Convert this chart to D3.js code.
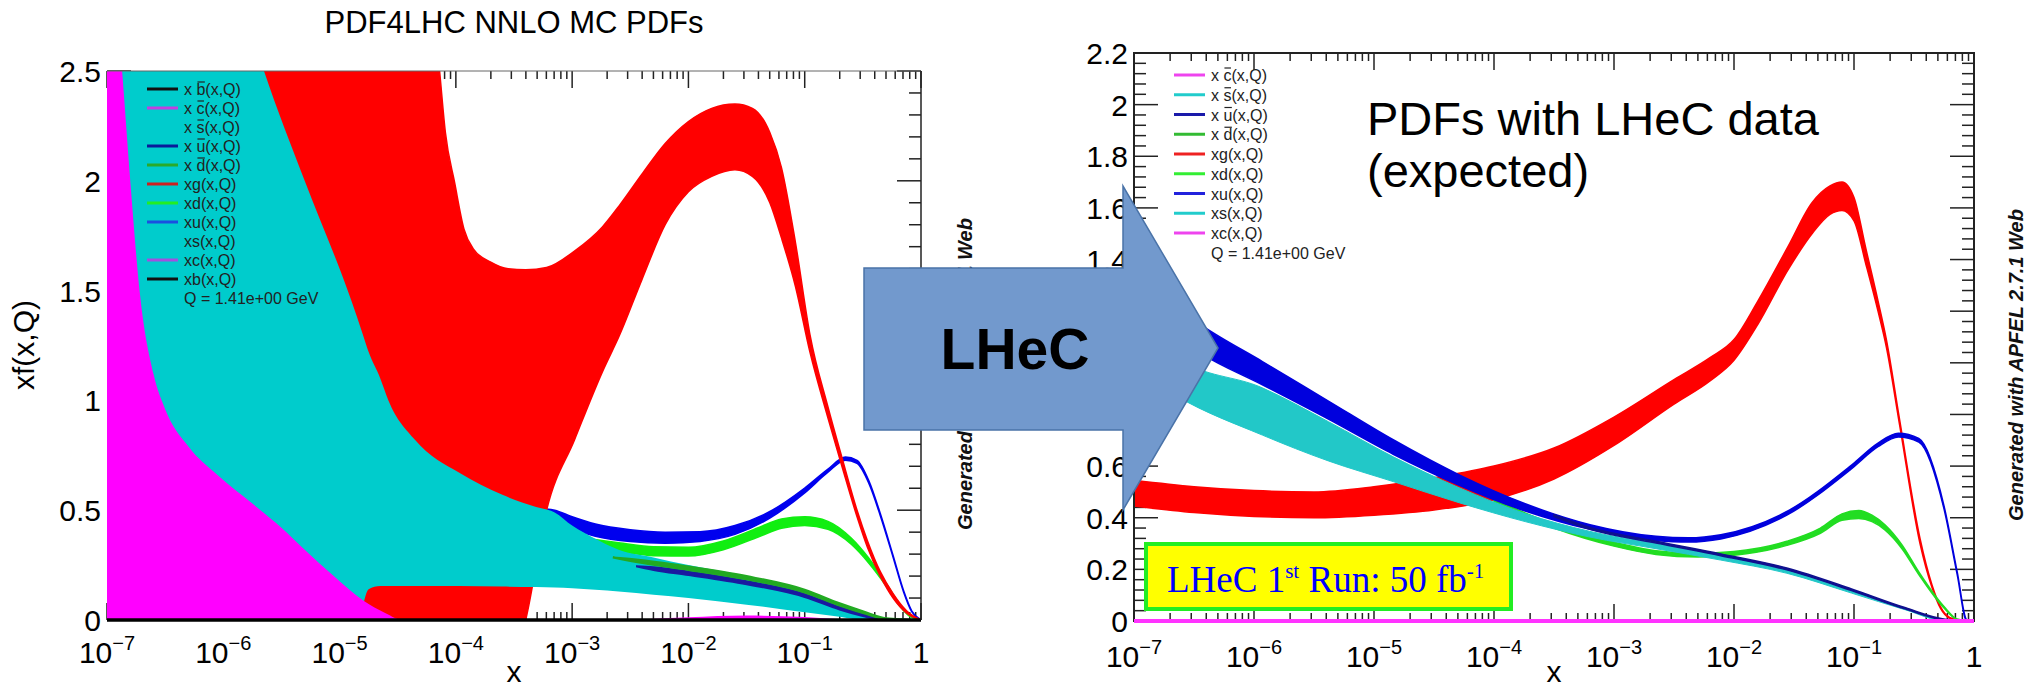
<!DOCTYPE html>
<html>
<head>
<meta charset="utf-8">
<script src="https://cdn.jsdelivr.net/npm/d3@7"></script>
<style>
  body { margin: 0; background: #fff; }
  svg { display: block; font-family: "Liberation Sans", Arial, sans-serif; }
</style>
</head>
<body>
<div id="chart"></div>
<script>
var width = 2028;
var height = 690;

// every band is [log10(x), lower, upper]

// left panel: PDF4LHC NNLO MC, Q = 1.41 GeV
var leftGluon = [
  [-7, -4, 8], [-4.6, -2, 4.5], [-4.3, -1.5, 3.3], [-4.14, -1.3, 2.5], [-4.09, -1.2, 2.22],
  [-4.01, -1.1, 1.99], [-3.93, -0.95, 1.78], [-3.85, -0.8, 1.69], [-3.7, -0.55, 1.63],
  [-3.55, -0.25, 1.6], [-3.4, 0, 1.595], [-3.22, 0.5, 1.605], [-2.98, 0.82, 1.68],
  [-2.74, 1.13, 1.79], [-2.59, 1.3, 1.89], [-2.4, 1.55, 2.03], [-2.2, 1.8, 2.17],
  [-2.0, 1.95, 2.27], [-1.8, 2.02, 2.33], [-1.6, 2.05, 2.35], [-1.45, 2.02, 2.33],
  [-1.3, 1.9, 2.22], [-1.2, 1.74, 2.06], [-1.08, 1.52, 1.72], [-0.955, 1.22, 1.3],
  [-0.8, 0.92, 0.97], [-0.68, 0.7, 0.74], [-0.55, 0.47, 0.5], [-0.46, 0.33, 0.36],
  [-0.35, 0.2, 0.22], [-0.24, 0.1, 0.12], [-0.12, 0.03, 0.04], [0, 0, 0]
];
var leftStrange = [
  [-7, -4, 6.5], [-6.5, -3.3, 4.2], [-6.0, -2.6, 3.1], [-5.65, -2.2, 2.5], [-5.3, -1.8, 2.0],
  [-4.93, -0.5, 1.5], [-4.85, -0.1, 1.38], [-4.8, 0.06, 1.3], [-4.75, 0.14, 1.22],
  [-4.65, 0.155, 1.1], [-4.58, 0.155, 1.0], [-4.35, 0.155, 0.82], [-3.97, 0.155, 0.67],
  [-3.6, 0.152, 0.57], [-3.31, 0.15, 0.515], [-3.15, 0.148, 0.49], [-3.0, 0.145, 0.43],
  [-2.8, 0.138, 0.37], [-2.6, 0.13, 0.32], [-2.3, 0.115, 0.285], [-2.0, 0.1, 0.25],
  [-1.5, 0.07, 0.2], [-1.0, 0.035, 0.135], [-0.7, 0.015, 0.075], [-0.5, 0, 0.035],
  [-0.3, 0, 0.005], [0, 0, 0]
];
var leftCharm = [
  [-7, -3, 3.3], [-6.87, -2.8, 2.5], [-6.8, -2.6, 2.0], [-6.72, -2.4, 1.5], [-6.6, -2.2, 1.12],
  [-6.5, -2.0, 0.96], [-6.3, -1.7, 0.79], [-6.05, -1.4, 0.66], [-5.75, -1.1, 0.53],
  [-5.5, -0.85, 0.42], [-5.3, -0.7, 0.32], [-5.05, -0.5, 0.2], [-4.8, -0.35, 0.09],
  [-4.6, -0.25, 0.03], [-4.46, -0.2, 0], [-3.5, -0.08, -0.01], [-2.5, -0.02, 0],
  [-2.0, 0, 0.012], [-1.5, 0.004, 0.02], [-1.0, 0, 0.014], [-0.6, -0.005, 0.002], [0, 0, 0]
];
var leftUp = [
  [-3.8, 0.6, 0.64], [-3.5, 0.51, 0.55], [-3.3, 0.47, 0.51], [-3.15, 0.448, 0.5],
  [-3.0, 0.415, 0.47], [-2.8, 0.381, 0.437], [-2.5, 0.357, 0.411], [-2.2, 0.35, 0.4],
  [-1.9, 0.358, 0.402], [-1.6, 0.39, 0.43], [-1.3, 0.464, 0.494], [-1.0, 0.579, 0.601],
  [-0.8, 0.673, 0.687], [-0.65, 0.728, 0.742], [-0.55, 0.713, 0.727], [-0.45, 0.624, 0.636],
  [-0.35, 0.475, 0.485], [-0.24, 0.286, 0.294], [-0.15, 0.128, 0.134], [-0.08, 0.038, 0.042],
  [0, 0, 0]
];
var leftDown = [
  [-3.0, 0.34, 0.38], [-2.6, 0.312, 0.352], [-2.3, 0.293, 0.333], [-2.0, 0.291, 0.331],
  [-1.7, 0.32, 0.36], [-1.4, 0.378, 0.42], [-1.2, 0.418, 0.46], [-1.0, 0.43, 0.47],
  [-0.8, 0.413, 0.449], [-0.6, 0.345, 0.373], [-0.45, 0.26, 0.282], [-0.3, 0.155, 0.168],
  [-0.2, 0.075, 0.085], [-0.1, 0.018, 0.022], [0, 0, 0]
];
var leftUbar = [
  [-2.45, 0.245, 0.245], [-2.3, 0.228, 0.24], [-2.0, 0.205, 0.22], [-1.5, 0.163, 0.177],
  [-1.0, 0.105, 0.118], [-0.7, 0.048, 0.058], [-0.5, 0.018, 0.025], [-0.35, 0, 0.005], [0, 0, 0]
];
var leftDbar = [
  [-2.65, 0.285, 0.285], [-2.45, 0.264, 0.276], [-2.0, 0.228, 0.244], [-1.5, 0.185, 0.2],
  [-1.0, 0.125, 0.138], [-0.7, 0.066, 0.076], [-0.5, 0.032, 0.04], [-0.3, 0.004, 0.008], [0, 0, 0]
];
var leftBottom = [[-7, 0, 0], [0, 0, 0]];

// right panel: with LHeC data (expected)
var rightGluon = [
  [-7, 0.445, 0.545], [-6.5, 0.42, 0.52], [-6.0, 0.405, 0.505], [-5.5, 0.4, 0.5],
  [-5.0, 0.41, 0.52], [-4.5, 0.43, 0.555], [-4.0, 0.47, 0.6], [-3.5, 0.55, 0.67],
  [-3.0, 0.68, 0.79], [-2.5, 0.84, 0.935], [-2.2, 0.93, 1.02], [-2.0, 1.01, 1.09],
  [-1.8, 1.15, 1.24], [-1.55, 1.36, 1.45], [-1.35, 1.5, 1.62], [-1.2, 1.575, 1.685],
  [-1.1, 1.59, 1.7], [-1.0, 1.55, 1.64], [-0.9, 1.38, 1.44], [-0.8, 1.2, 1.24],
  [-0.73, 1.06, 1.09], [-0.62, 0.76, 0.78], [-0.45, 0.3, 0.32], [-0.35, 0.13, 0.14],
  [-0.28, 0.05, 0.056], [-0.2, 0.01, 0.013], [-0.1, 0, 0.002], [0, 0, 0]
];
var rightUp = [
  [-7, 1.23, 1.35], [-6.43, 1.033, 1.143], [-5.93, 0.915, 1.005], [-5.38, 0.782, 0.852],
  [-4.84, 0.646, 0.702], [-4.29, 0.526, 0.566], [-3.74, 0.426, 0.454], [-3.2, 0.355, 0.373],
  [-2.65, 0.312, 0.328], [-2.38, 0.306, 0.322], [-2.11, 0.318, 0.334], [-1.56, 0.41, 0.424],
  [-1.02, 0.59, 0.604], [-0.8, 0.675, 0.689], [-0.63, 0.713, 0.727], [-0.46, 0.693, 0.707],
  [-0.25, 0.434, 0.446], [-0.14, 0.18, 0.19], [-0.06, 0, 0.005], [0, 0, 0]
];
var rightStrange = [
  [-7, 0.98, 1.2], [-6.64, 0.87, 1.02], [-5.93, 0.72, 0.903], [-5.38, 0.62, 0.772],
  [-4.84, 0.54, 0.636], [-4.29, 0.458, 0.516], [-3.74, 0.385, 0.416], [-3.2, 0.325, 0.347],
  [-2.65, 0.28, 0.3], [-2.11, 0.236, 0.252], [-1.56, 0.185, 0.198], [-1.02, 0.108, 0.118],
  [-0.57, 0.043, 0.05], [-0.24, 0, 0.004], [0, 0, 0]
];
var rightDown = [
  [-4.0, 0.46, 0.47], [-3.5, 0.36, 0.375], [-3.0, 0.29, 0.305], [-2.65, 0.258, 0.272],
  [-2.3, 0.248, 0.262], [-2.0, 0.255, 0.269], [-1.56, 0.293, 0.309], [-1.28, 0.34, 0.36],
  [-1.1, 0.39, 0.415], [-0.96, 0.397, 0.428], [-0.85, 0.385, 0.41], [-0.74, 0.352, 0.372],
  [-0.6, 0.28, 0.295], [-0.46, 0.18, 0.19], [-0.25, 0.05, 0.056], [-0.14, 0.005, 0.008], [0, 0, 0]
];
var rightUbar = [
  [-3.5, 0.405, 0.412], [-3.2, 0.355, 0.362], [-2.65, 0.302, 0.309], [-2.11, 0.253, 0.26],
  [-1.56, 0.198, 0.205], [-1.02, 0.118, 0.124], [-0.57, 0.046, 0.051], [-0.24, 0.004, 0.007], [0, 0, 0]
];
var rightCharm = [[-7, 0, 0], [0, 0, 0]];

// axes and labels
var leftYTicks = [0, 0.5, 1, 1.5, 2, 2.5];
var rightYTicks = [0, 0.2, 0.4, 0.6, 0.8, 1, 1.2, 1.4, 1.6, 1.8, 2, 2.2];
var xTickExps = [-7, -6, -5, -4, -3, -2, -1];

var leftLegendFlav = ["b", "c", "s", "u", "d", "g", "d", "u", "s", "c", "b"];
var leftLegendBar = [1, 1, 1, 1, 1, 0, 0, 0, 0, 0, 0];
var rightLegendFlav = ["c", "s", "u", "d", "g", "d", "u", "s", "c"];
var rightLegendBar = [1, 1, 1, 1, 0, 0, 0, 0, 0];
var scaleText = "Q = 1.41e+00 GeV";

// legend line colours
var leftLegendColors = ["#111111", "#c040e0", "#00cccc", "#0a1a9a", "#2aaa2a", "#cc2020",
  "#22ee22", "#1a50e0", "#00cccc", "#a050e0", "#111111"];
var rightLegendColors = ["#ee44ee", "#22cccc", "#1a1aaa", "#33bb33", "#ee2222",
  "#33ee33", "#2222dd", "#22cccc", "#ee44ee"];

var svg = d3.select("#chart")
  .append("svg")
  .attr("width", width)
  .attr("height", height);

var xL = d3.scaleLog().domain([1e-7, 1]).range([107, 921]);
var yL = d3.scaleLinear().domain([0, 2.5]).range([620, 71]);
var xR = d3.scaleLog().domain([1e-7, 1]).range([1134, 1974]);
var yR = d3.scaleLinear().domain([0, 2.2]).range([621, 53]);

var defs = svg.append("defs");
defs.append("clipPath").attr("id", "clipL").append("rect")
  .attr("x", 107).attr("y", 71).attr("width", 814).attr("height", 549);
defs.append("clipPath").attr("id", "clipR").append("rect")
  .attr("x", 1134).attr("y", 53).attr("width", 840).attr("height", 568);

function band(xs, ys) {
  return d3.area()
    .x(function(d) { return xs(Math.pow(10, d[0])); })
    .y0(function(d) { return ys(d[1]); })
    .y1(function(d) { return ys(d[2]); })
    .curve(d3.curveMonotoneX);
}

function drawBand(g, data, xs, ys, color, edge) {
  g.append("path")
    .datum(data)
    .attr("d", band(xs, ys))
    .attr("fill", color)
    .attr("stroke", color)
    .attr("stroke-width", edge || 0);
}

function drawTicks(g, xs, ys, yMax, yMajor) {
  var x0 = xs.range()[0], x1 = xs.range()[1];
  var y0 = ys.range()[0], y1 = ys.range()[1];
  for (var d = -7; d <= 0; d++) {
    for (var k = 1; k <= 9; k++) {
      if (d === 0 && k > 1) break;
      var px = xs(k * Math.pow(10, d));
      var len = k === 1 ? 17 : 8;
      g.append("line").attr("x1", px).attr("x2", px).attr("y1", y0).attr("y2", y0 - len);
      g.append("line").attr("x1", px).attr("x2", px).attr("y1", y1).attr("y2", y1 + len);
    }
  }
  var step = yMajor / 5;
  for (var i = 0; i * step <= yMax + 1e-9; i++) {
    var py = ys(i * step);
    var l = i % 5 === 0 ? 24 : 12;
    g.append("line").attr("x1", x0).attr("x2", x0 + l).attr("y1", py).attr("y2", py);
    g.append("line").attr("x1", x1).attr("x2", x1 - l).attr("y1", py).attr("y2", py);
  }
  g.selectAll("line").attr("stroke", "#222").attr("stroke-width", 1.5);
}

function drawXLabels(g, xs, yBase, xTitleY) {
  xTickExps.forEach(function(e) {
    var t = g.append("text")
      .attr("x", xs(Math.pow(10, e)))
      .attr("y", yBase)
      .attr("text-anchor", "middle")
      .attr("font-size", 30)
      .text("10");
    t.append("tspan").attr("dy", -13).attr("font-size", 20).text("\u2212" + (-e));
  });
  g.append("text").attr("x", xs(1)).attr("y", yBase)
    .attr("text-anchor", "middle").attr("font-size", 30).text("1");
  g.append("text").attr("x", (xs.range()[0] + xs.range()[1]) / 2).attr("y", xTitleY)
    .attr("text-anchor", "middle").attr("font-size", 30).text("x");
}

function drawYLabels(g, ys, ticks, xEnd) {
  ticks.forEach(function(v) {
    g.append("text")
      .attr("x", xEnd)
      .attr("y", ys(v) + 11)
      .attr("text-anchor", "end")
      .attr("font-size", 30)
      .text(d3.format("~g")(v));
  });
}

function drawLegend(g, flav, bar, colors, x0, y0, dy, rows) {
  flav.forEach(function(f, i) {
    var y = y0 + dy * i;
    g.append("line")
      .attr("x1", x0).attr("x2", x0 + 31)
      .attr("y1", y).attr("y2", y)
      .attr("stroke", colors[i]).attr("stroke-width", 3);
    var label = bar[i] ? "x " + f + "(x,Q)" : "x" + f + "(x,Q)";
    var t = g.append("text")
      .attr("x", x0 + 37).attr("y", y + 6)
      .attr("font-size", 16).attr("fill", "#222")
      .text(label);
    if (bar[i]) {
      var box = t.node().getExtentOfChar(2);
      g.append("line")
        .attr("x1", box.x + 1).attr("x2", box.x + box.width - 0.5)
        .attr("y1", y + 6 - 13).attr("y2", y + 6 - 13)
        .attr("stroke", "#222").attr("stroke-width", 1.2);
    }
  });
  g.append("text")
    .attr("x", x0 + 37).attr("y", y0 + dy * rows + 6)
    .attr("font-size", 16).attr("fill", "#222")
    .text(scaleText);
}

// ---------- left panel ----------
var left = svg.append("g");
drawTicks(left.append("g"), xL, yL, 2.5, 0.5);

var lp = left.append("g").attr("clip-path", "url(#clipL)");
drawBand(lp, leftUp, xL, yL, "#0000ee", 1.5);
drawBand(lp, leftDown, xL, yL, "#11ee11", 1.5);
drawBand(lp, leftGluon, xL, yL, "#ff0000", 1.5);
drawBand(lp, leftStrange, xL, yL, "#00cccc", 0);
drawBand(lp, leftCharm, xL, yL, "#ff00ff", 0);
drawBand(lp, leftUbar, xL, yL, "#1a1aa0", 2);
drawBand(lp, leftDbar, xL, yL, "#22aa22", 2);

left.append("path")
  .datum(leftBottom)
  .attr("d", d3.line().x(function(d) { return xL(Math.pow(10, d[0])); }).y(function(d) { return yL(d[1]); }))
  .attr("stroke", "#000").attr("stroke-width", 3.5).attr("fill", "none");

left.append("line").attr("x1", 107).attr("x2", 921).attr("y1", 71).attr("y2", 71)
  .attr("stroke", "#666").attr("stroke-width", 1);
left.append("line").attr("x1", 921).attr("x2", 921).attr("y1", 71).attr("y2", 620)
  .attr("stroke", "#222").attr("stroke-width", 1.5);

drawXLabels(left, xL, 663, 682);
drawYLabels(left, yL, leftYTicks, 101);

left.append("text")
  .attr("x", 514).attr("y", 33)
  .attr("text-anchor", "middle").attr("font-size", 31)
  .text("PDF4LHC NNLO MC PDFs");

left.append("text")
  .attr("transform", "translate(34,345) rotate(-90)")
  .attr("text-anchor", "middle").attr("font-size", 30)
  .text("xf(x,Q)");

drawLegend(left, leftLegendFlav, leftLegendBar, leftLegendColors, 147, 89, 19, 11);

left.append("text")
  .attr("transform", "translate(972,374) rotate(-90)")
  .attr("text-anchor", "middle")
  .attr("font-size", 20).attr("font-weight", "bold").attr("font-style", "italic")
  .attr("fill", "#111")
  .text("Generated with APFEL 2.7.1 Web");

// ---------- right panel ----------
var right = svg.append("g");
drawTicks(right.append("g"), xR, yR, 2.2, 0.2);

var rp = right.append("g").attr("clip-path", "url(#clipR)");
drawBand(rp, rightGluon, xR, yR, "#ff0000", 1.5);
drawBand(rp, rightDown, xR, yR, "#22dd22", 1.5);
drawBand(rp, rightStrange, xR, yR, "#22c8c8", 1);
drawBand(rp, rightUp, xR, yR, "#0000dd", 1.5);
drawBand(rp, rightUbar, xR, yR, "#10108f", 1.5);

right.append("rect")
  .attr("x", 1134).attr("y", 53).attr("width", 840).attr("height", 568)
  .attr("fill", "none").attr("stroke", "#222").attr("stroke-width", 2);

right.append("path")
  .datum(rightCharm)
  .attr("d", d3.line().x(function(d) { return xR(Math.pow(10, d[0])); }).y(function(d) { return yR(d[1]); }))
  .attr("stroke", "#ff33ff").attr("stroke-width", 4).attr("fill", "none");

drawXLabels(right, xR, 667, 682);
drawYLabels(right, yR, rightYTicks, 1128);

drawLegend(right, rightLegendFlav, rightLegendBar, rightLegendColors, 1174, 75, 19.75, 9);

right.append("text").attr("x", 1367).attr("y", 135).attr("font-size", 47)
  .text("PDFs with LHeC data");
right.append("text").attr("x", 1367).attr("y", 187).attr("font-size", 47)
  .text("(expected)");

right.append("text")
  .attr("transform", "translate(2023,365) rotate(-90)")
  .attr("text-anchor", "middle")
  .attr("font-size", 20).attr("font-weight", "bold").attr("font-style", "italic")
  .attr("fill", "#111")
  .text("Generated with APFEL 2.7.1 Web");

right.append("rect")
  .attr("x", 1146).attr("y", 544).attr("width", 365).attr("height", 65)
  .attr("fill", "#ffff00").attr("stroke", "#22ee22").attr("stroke-width", 4);
var run = right.append("text")
  .attr("x", 1167).attr("y", 592)
  .attr("font-family", "'Liberation Serif', 'Times New Roman', serif")
  .attr("font-size", 37).attr("fill", "#0000ff");
run.append("tspan").text("LHeC 1");
run.append("tspan").attr("dy", -14).attr("font-size", 21).text("st");
run.append("tspan").attr("dy", 14).text(" Run: 50 fb");
run.append("tspan").attr("dy", -14).attr("font-size", 21).text("-1");

// ---------- arrow ----------
var arrow = svg.append("g");
arrow.append("polygon")
  .attr("points", "864,268 1123,268 1123,186 1218,348 1123,510 1123,430 864,430")
  .attr("fill", "#7299cd").attr("stroke", "#4a73a8").attr("stroke-width", 1.5);
arrow.append("text")
  .attr("x", 1015).attr("y", 369)
  .attr("text-anchor", "middle")
  .attr("font-size", 57).attr("font-weight", "bold")
  .text("LHeC");
</script>
</body>
</html>
